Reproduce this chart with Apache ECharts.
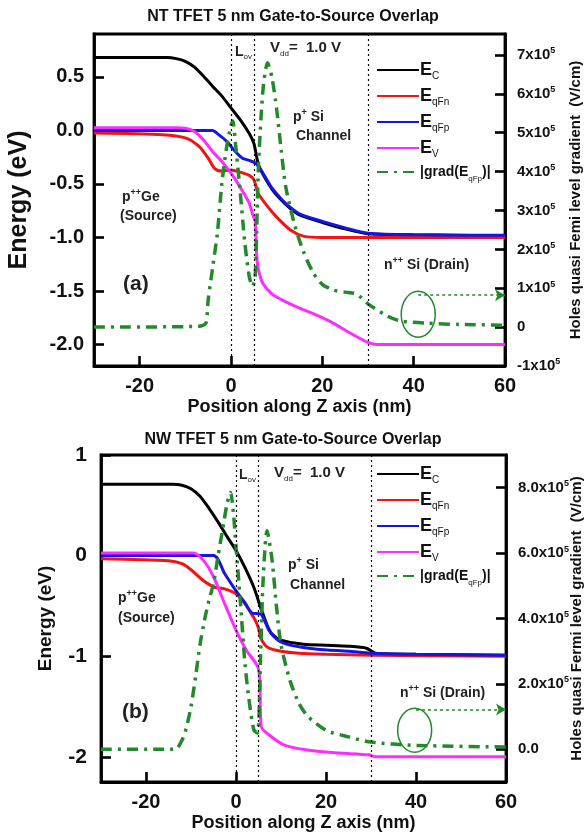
<!DOCTYPE html>
<html><head><meta charset="utf-8">
<script src="https://cdn.jsdelivr.net/npm/echarts@6/dist/echarts.min.js"></script>
<style>html,body{margin:0;padding:0;background:#fff}#c{width:586px;height:836px}</style>
</head><body><div id="c"></div>
<script>
// ---------- Data (a) NT TFET ----------
const aEcX  = [-30,-14,-12,-10,-8,-6,-4,-2,0,2,4,5,5.5,6,7,9,11,13,15,20,25,30,40,60];
const aEcY  = [0.68,0.68,0.67,0.645,0.59,0.505,0.41,0.32,0.21,0.10,-0.03,-0.12,-0.22,-0.32,-0.41,-0.55,-0.65,-0.73,-0.79,-0.86,-0.92,-0.965,-0.975,-0.985];
const aFnX  = [-30,-15,-10,-7,-5,-3.5,-2,0,2,4,5,6,8,10,13,16,20,30,60];
const aFnY  = [-0.025,-0.04,-0.07,-0.15,-0.26,-0.36,-0.38,-0.37,-0.39,-0.42,-0.46,-0.59,-0.71,-0.81,-0.93,-0.99,-1.0,-1.0,-1.0];
const aFpX  = [-30,-4,-3,-1,1,2.5,4,5.5,7,9,11,13,15,20,25,30,40,60];
const aFpY  = [0.0,0.0,-0.03,-0.10,-0.20,-0.26,-0.28,-0.31,-0.40,-0.54,-0.64,-0.72,-0.78,-0.85,-0.91,-0.96,-0.975,-0.98];
const aEvX  = [-30,-12,-10,-8,-6,-4,-2,0,2,4,4.7,5.3,5.6,6,7,9,11,15,18,22,26,30,32,60];
const aEvY  = [0.025,0.025,0.02,-0.01,-0.09,-0.2,-0.29,-0.4,-0.53,-0.68,-0.78,-0.85,-1.15,-1.30,-1.43,-1.53,-1.58,-1.66,-1.71,-1.79,-1.89,-1.98,-2.0,-2.0];
const aGrX  = [-30,-7,-5.5,-5,-4,-3,-2,-1,0,0.4,1,2,3,4,4.7,5.3,6,7,8,9,10,11,12,14,16,18,20,22.5,25,27.5,30,34,37,43,50,60];
const aGrY  = [0,0.02e5,0.1e5,0.7e5,1.55e5,2.4e5,3.7e5,4.6e5,5.2e5,5.3e5,4.7e5,3.5e5,2.2e5,1.3e5,1.05e5,1.3e5,4.1e5,6.1e5,6.8e5,6.4e5,5.6e5,4.55e5,3.6e5,2.6e5,1.9e5,1.4e5,1.1e5,0.95e5,0.9e5,0.85e5,0.6e5,0.3e5,0.16e5,0.1e5,0.07e5,0.05e5];

// ---------- Data (b) NW TFET ----------
const bEcX  = [-30,-14,-12,-10,-8,-6,-4,-2,0,2,4,5.5,6,7,8,10,15,20,25,29,31,40,60];
const bEcY  = [0.71,0.71,0.70,0.665,0.59,0.47,0.335,0.19,0.05,-0.12,-0.32,-0.52,-0.58,-0.70,-0.78,-0.84,-0.88,-0.89,-0.90,-0.92,-0.97,-0.98,-0.99];
const bFnX  = [-30,-15,-12,-10,-7.5,-5,-2.5,0,2,4,5,5.5,7,10,14,20,30,60];
const bFnY  = [-0.03,-0.05,-0.08,-0.14,-0.24,-0.31,-0.33,-0.38,-0.48,-0.62,-0.72,-0.82,-0.91,-0.95,-0.97,-0.98,-0.99,-1.0];
const bFpX  = [-30,-5,-2.5,0,2,3.5,5.5,7.3,9.3,12,18,25,30,40,60];
const bFpY  = [0.0,0.0,-0.18,-0.35,-0.47,-0.57,-0.58,-0.74,-0.84,-0.89,-0.93,-0.95,-0.97,-0.98,-0.99];
const bEvX  = [-30,-9.5,-7.2,-5,-2.5,0,2.3,4.8,5.3,5.6,7.3,10.6,15.5,22,29.6,31,60];
const bEvY  = [0.025,0.025,-0.05,-0.21,-0.48,-0.74,-0.94,-1.1,-1.24,-1.7,-1.78,-1.88,-1.93,-1.96,-1.98,-2.0,-2.0];
const bGrX  = [-30,-13.5,-12,-11,-10,-9,-8,-7,-6,-5,-4,-3,-2,-1.2,-0.5,0,1,2,3,4,4.8,5.5,6,6.9,8,9,10,12,14,16,20,25,30,40,60];
const bGrY  = [0,0,0.28e5,0.68e5,1.3e5,2.2e5,3.2e5,3.95e5,4.56e5,5.07e5,5.9e5,6.7e5,7.5e5,7.85e5,7.1e5,6.2e5,4.46e5,2.6e5,1.4e5,0.58e5,0.5e5,3.0e5,5.1e5,6.68e5,5.8e5,4.36e5,3.2e5,2.1e5,1.4e5,1.0e5,0.58e5,0.38e5,0.22e5,0.12e5,0.07e5];

// axes ticks / labels
const xTicks = [-20,0,20,40,60];
const aLeftTicks = [-2.0,-1.5,-1.0,-0.5,0.0,0.5];
const aRightTicks = [-1e5,0,1e5,2e5,3e5,4e5,5e5,6e5,7e5];
const bLeftTicks = [-2,-1,0,1];
const bRightTicks = [0,2e5,4e5,6e5,8e5];
const regionLines = [0,5,30];
const names = ['E_C','E_qFn','E_qFp','E_V','grad'];
const colors = ['#000000','#f21414','#1414e6','#ff2cff','#23892a'];

const FONT = '"Liberation Sans", Arial, sans-serif';
const zip = (xs, ys) => xs.map((x,i)=>[x, ys[i]]);

function lineSeries(name, xi, yi, xs, ys, extra) {
  const isGrad = name === 'grad';
  return Object.assign({
    type:'line', name, xAxisIndex:xi, yAxisIndex:yi, data: zip(xs,ys),
    symbol:'none', smooth:0.25, animation:false,
    lineStyle: isGrad ? {color:colors[4], width:3.5, type:[11,6,3,6]} : {color:colors[names.indexOf(name)], width:3},
    itemStyle:{color: colors[names.indexOf(name)]}
  }, extra||{});
}

const vlines = () => ({
  silent:true, symbol:'none', label:{show:false},
  lineStyle:{color:'#000', type:[2,3], width:1.2},
  data: regionLines.map(v=>({xAxis:v}))
});
const arrow = (x0,x1,y) => ({
  silent:true, symbol:['none','arrow'], symbolSize:[9,10], label:{show:false},
  lineStyle:{color:colors[4], type:[3,3], width:1.6},
  data:[[{coord:[x0,y]},{coord:[x1,y]}]]
});

const axisLabelBase = {color:'#111', fontFamily:FONT, fontWeight:'bold'};
const AXLINE = {show:true, onZero:false, lineStyle:{color:'#000', width:2.8}};
const TICK = (vals) => ({show:true, inside:true, length:10, lineStyle:{color:'#000', width:2.6}, customValues:vals});
function sup(v, fixed) {
  if (v === 0) return fixed ? '{m|0.0}' : '{m|0}';
  const m = v/1e5;
  return '{m|' + (fixed ? m.toFixed(1) : String(m)) + 'x10}{s|5}';
}
const supRich = {m:{fontSize:15, fontWeight:'bold', fontFamily:FONT, color:'#111'}, s:{fontSize:9, fontWeight:'bold', fontFamily:FONT, color:'#111', verticalAlign:'top', padding:[0,0,8,0]}};

const legendFmt = (n) => ({
  'E_C':'{e|E}{sb|C}', 'E_qFn':'{e|E}{sb|qFn}', 'E_qFp':'{e|E}{sb|qFp}', 'E_V':'{e|E}{sb|V}',
  'grad':'{g||grad(E}{sb2|qFp}{g|)|}'
}[n]);
const legendRich = {
  e:{fontSize:18, fontWeight:'bold', fontFamily:FONT, color:'#111', lineHeight:22},
  sb:{fontSize:10, fontFamily:FONT, color:'#111', verticalAlign:'bottom', padding:[12,0,0,0]},
  g:{fontSize:14, fontWeight:'bold', fontFamily:FONT, color:'#111', lineHeight:22},
  sb2:{fontSize:8, fontFamily:FONT, color:'#111', verticalAlign:'bottom', padding:[12,0,0,0]}
};
function legend(top) {
  return {orient:'vertical', left:371, top, itemWidth:42, itemHeight:10, itemGap:6,
    itemStyle:{opacity:0},
    data:names, formatter:legendFmt, textStyle:{rich:legendRich, height:22, padding:[0,0,0,-4]}, selectedMode:false};
}

function xAxis(gi, nameGap) {
  return {type:'value', gridIndex:gi, min:-30, max:60, position:'bottom',
    axisLine:AXLINE, splitLine:{show:false},
    axisTick:TICK(xTicks),
    axisLabel:Object.assign({fontSize:20, margin:10, customValues:xTicks}, axisLabelBase),
    name:'Position along Z axis (nm)', nameLocation:'middle', nameGap, nameMoveOverlap:false,
    nameTextStyle:{fontSize:18, fontWeight:'bold', fontFamily:FONT, color:'#111'}};
}

const chart = echarts.init(document.getElementById('c'), null, {renderer:'canvas'});
const gridStyle = {show:true, borderColor:'#000', borderWidth:2.8, containLabel:false, outerBoundsMode:'none'};

const option = {
  backgroundColor:'#fff',
  animation:false,
  title:[
    {text:'NT TFET 5 nm Gate-to-Source Overlap', left:'center', top:4, textStyle:{fontSize:16, fontWeight:'bold', fontFamily:FONT, color:'#111'}},
    {text:'NW TFET 5 nm Gate-to-Source Overlap', left:'center', top:427, textStyle:{fontSize:16, fontWeight:'bold', fontFamily:FONT, color:'#111'}}
  ],
  grid:[
    Object.assign({left:94, right:81, top:34, height:332}, gridStyle),
    Object.assign({left:101, right:80, top:455, height:327}, gridStyle)
  ],
  xAxis:[xAxis(0, 32), xAxis(1, 32)],
  yAxis:[
    {type:'value', gridIndex:0, min:-2.2, max:0.9, position:'left',
      axisLine:AXLINE, splitLine:{show:false}, axisTick:TICK(aLeftTicks),
      axisLabel:Object.assign({fontSize:20, margin:10, customValues:aLeftTicks, formatter:v=>v.toFixed(1)}, axisLabelBase),
      name:'Energy (eV)', nameLocation:'middle', nameGap:62, nameRotate:90, nameMoveOverlap:false,
      nameTextStyle:{fontSize:25, fontWeight:'bold', fontFamily:FONT, color:'#111'}},
    {type:'value', gridIndex:0, min:-1e5, max:7.54e5, position:'right',
      axisLine:AXLINE, splitLine:{show:false}, axisTick:TICK(aRightTicks),
      axisLabel:{margin:12, customValues:aRightTicks, formatter:v=>sup(v,false), rich:supRich},
      name:'Holes quasi Femi level gradient  (V/cm)', nameLocation:'middle', nameGap:63, nameRotate:90, nameMoveOverlap:false,
      nameTextStyle:{fontSize:15, fontWeight:'bold', fontFamily:FONT, color:'#111'}},
    {type:'value', gridIndex:1, min:-2.25, max:1, position:'left',
      axisLine:AXLINE, splitLine:{show:false}, axisTick:TICK(bLeftTicks),
      axisLabel:Object.assign({fontSize:21, margin:14, customValues:bLeftTicks}, axisLabelBase),
      name:'Energy (eV)', nameLocation:'middle', nameGap:46, nameRotate:90, nameMoveOverlap:false,
      nameTextStyle:{fontSize:19, fontWeight:'bold', fontFamily:FONT, color:'#111'}},
    {type:'value', gridIndex:1, min:-1e5, max:9e5, position:'right',
      axisLine:AXLINE, splitLine:{show:false}, axisTick:TICK(bRightTicks),
      axisLabel:{margin:12, customValues:bRightTicks, formatter:v=>sup(v,true), rich:supRich},
      name:'Holes quasi Fermi level gradient  (V/cm)', nameLocation:'middle', nameGap:63, nameRotate:90, nameMoveOverlap:false,
      nameTextStyle:{fontSize:15, fontWeight:'bold', fontFamily:FONT, color:'#111'}}
  ],
  legend:[legend(56), legend(460)],
  series:[
    lineSeries('E_C',0,0,aEcX,aEcY,{markLine:vlines()}),
    lineSeries('E_qFn',0,0,aFnX,aFnY),
    lineSeries('E_qFp',0,0,aFpX,aFpY),
    lineSeries('E_V',0,0,aEvX,aEvY),
    lineSeries('grad',0,1,aGrX,aGrY,{markLine:arrow(41,60,0.82e5)}),
    lineSeries('E_C',1,2,bEcX,bEcY,{markLine:vlines()}),
    lineSeries('E_qFn',1,2,bFnX,bFnY),
    lineSeries('E_qFp',1,2,bFpX,bFpY),
    lineSeries('E_V',1,2,bEvX,bEvY),
    lineSeries('grad',1,3,bGrX,bGrY,{markLine:arrow(40,60,1.22e5)})
  ]
};
chart.setOption(option);

// annotations
const T = (x,y,rich,text,size) => ({type:'text', left:x, top:y, silent:true,
  style:{text, fontFamily:FONT, fontSize:size||14, fontWeight:'bold', fill:'#222', rich}});
const annRich = {
  n:{fontSize:14, fontWeight:'bold', fontFamily:FONT, fill:'#222', lineHeight:18},
  up:{fontSize:9, fontWeight:'bold', fontFamily:FONT, fill:'#222', verticalAlign:'top', padding:[0,0,6,0]},
  dn:{fontSize:8, fontFamily:FONT, fill:'#222', verticalAlign:'bottom', padding:[8,0,0,0]},
  big:{fontSize:15, fontWeight:'bold', fontFamily:FONT, fill:'#222', lineHeight:20}
};
const c1 = chart.convertToPixel({xAxisIndex:0, yAxisIndex:1}, [41, 0.33e5]);
const c2 = chart.convertToPixel({xAxisIndex:1, yAxisIndex:3}, [39.7, 0.58e5]);
chart.setOption({graphic:[
  T(235,45,annRich,'{n|L}{dn|ov}'),
  T(270,40,annRich,'{big|V}{dn|dd}{big|=  1.0 V}'),
  T(293,108,annRich,'{n|p}{up|+}{n| Si}'),
  T(296,129,annRich,'{n|Channel}'),
  T(122,188,annRich,'{n|p}{up|++}{n|Ge}'),
  T(120,209,annRich,'{n|(Source)}'),
  T(123,274,null,'(a)',21),
  T(384,256,annRich,'{n|n}{up|++}{n| Si (Drain)}'),
  T(239,468,annRich,'{n|L}{dn|ov}'),
  T(274,465,annRich,'{big|V}{dn|dd}{big|=  1.0 V}'),
  T(288,556,annRich,'{n|p}{up|+}{n| Si}'),
  T(290,578,annRich,'{n|Channel}'),
  T(118,589,annRich,'{n|p}{up|++}{n|Ge}'),
  T(118,611,annRich,'{n|(Source)}'),
  T(122,702,null,'(b)',21),
  T(400,684,annRich,'{n|n}{up|++}{n| Si (Drain)}'),
  {type:'ellipse', silent:true, shape:{cx:c1[0], cy:c1[1], rx:17, ry:23}, style:{fill:'none', stroke:colors[4], lineWidth:1.5}},
  {type:'ellipse', silent:true, shape:{cx:c2[0], cy:c2[1], rx:17, ry:22}, style:{fill:'none', stroke:colors[4], lineWidth:1.5}}
]});
</script></body></html>
